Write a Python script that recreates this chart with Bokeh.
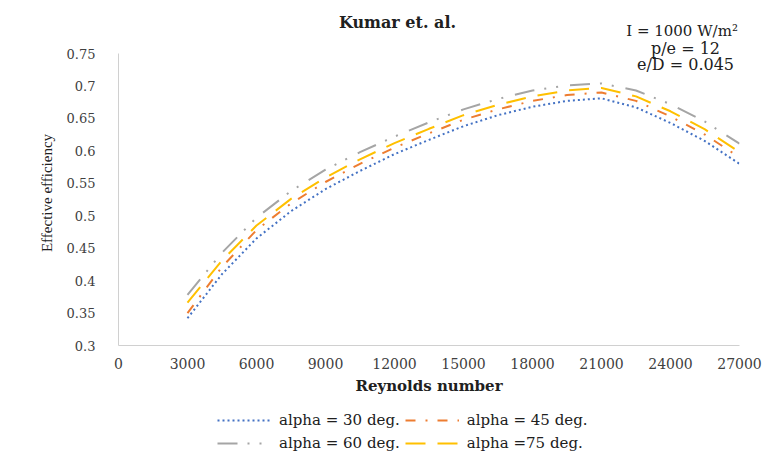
from bokeh.plotting import figure
from bokeh.layouts import column
from bokeh.models import Range1d, FixedTicker, Legend, LegendItem, Label
from bokeh.embed import file_html
from bokeh.resources import INLINE

# ---- data ----
reynolds = [3000, 4500, 6000, 7500, 9000, 10500, 12000, 13500, 15000,
            16500, 18000, 19500, 21000, 22500, 24000, 25500, 27000]
alpha30 = [0.342, 0.410, 0.465, 0.507, 0.541, 0.569, 0.595, 0.617, 0.638,
           0.655, 0.668, 0.677, 0.681, 0.667, 0.643, 0.615, 0.580]
alpha45 = [0.350, 0.421, 0.478, 0.519, 0.552, 0.580, 0.605, 0.627, 0.648,
           0.664, 0.677, 0.686, 0.690, 0.677, 0.653, 0.625, 0.590]
alpha60 = [0.378, 0.443, 0.497, 0.538, 0.571, 0.598, 0.622, 0.644, 0.664,
           0.680, 0.693, 0.701, 0.704, 0.693, 0.672, 0.645, 0.611]
alpha75 = [0.366, 0.431, 0.485, 0.526, 0.559, 0.587, 0.612, 0.634, 0.655,
           0.671, 0.684, 0.693, 0.697, 0.684, 0.661, 0.633, 0.598]

series_names = ["alpha = 30 deg.", "alpha = 45 deg.", "alpha = 60 deg.", "alpha =75 deg."]
series_colors = ["#4472C4", "#ED7D31", "#A5A5A5", "#FFC000"]
series_dashes = ["2 3", "10 10 2 10", "20 10 2 10 2 12", "20 12"]

x_ticks = [0, 3000, 6000, 9000, 12000, 15000, 18000, 21000, 24000, 27000]
x_tick_labels = ["0", "3000", "6000", "9000", "12000", "15000", "18000", "21000", "24000", "27000"]
y_ticks = [0.3, 0.35, 0.4, 0.45, 0.5, 0.55, 0.6, 0.65, 0.7, 0.75]
y_tick_labels = ["0.3", "0.35", "0.4", "0.45", "0.5", "0.55", "0.6", "0.65", "0.7", "0.75"]

title_text = "Kumar et. al."
note_lines = ["I = 1000 W/m\u00b2", "p/e = 12", "e/D = 0.045"]

SERIF = "DejaVu Serif"
FW, BL, BR = 621, 118, 30
xr = Range1d(0, 27000)

def strip(h, yr):
    f = figure(frame_width=FW, frame_height=h, min_border_left=BL, min_border_right=BR,
               min_border_top=0, min_border_bottom=0, x_range=xr, y_range=yr,
               x_axis_type=None, y_axis_type=None, output_backend="svg", toolbar_location=None)
    f.outline_line_color = None
    f.xgrid.visible = False
    f.ygrid.visible = False
    return f

# ---- header strip: title and first note line (y in pixels from top) ----
hdr = strip(40, Range1d(40, 0))
hdr.add_layout(Label(x=12130, y=22, text=title_text, text_align="center",
                     text_baseline="middle", text_font=SERIF, text_font_style="bold",
                     text_font_size="16px", text_color="#202020"))
hdr.add_layout(Label(x=26930, y=30, text=note_lines[0], text_align="right",
                     text_baseline="middle", text_font=SERIF,
                     text_font_size="15px", text_color="#202020"))

# ---- main chart ----
p = figure(frame_width=FW, frame_height=305,
           min_border_left=BL, min_border_right=BR,
           min_border_top=0, min_border_bottom=55,
           x_range=xr, y_range=Range1d(0.3, 0.7701),
           output_backend="svg", toolbar_location=None)
p.outline_line_color = None
p.xgrid.visible = False
p.ygrid.visible = False
p.background_fill_color = "white"
p.border_fill_color = "white"

for ax in (p.xaxis[0], p.yaxis[0]):
    ax.axis_line_color = "#d0d0d0"
    ax.axis_line_width = 1
    ax.major_tick_line_color = None
    ax.minor_tick_line_color = None
    ax.major_label_text_font = SERIF
    ax.major_label_text_color = "#404040"
    ax.major_label_text_font_style = "normal"
    ax.axis_label_text_color = "#202020"

p.xaxis.bounds = (0, 27000)
p.xaxis.ticker = FixedTicker(ticks=x_ticks)
p.xaxis.major_label_overrides = {t: l for t, l in zip(x_ticks, x_tick_labels)}
p.xaxis.major_label_text_font_size = "14px"
p.xaxis.major_label_standoff = 6
p.xaxis.axis_label = "Reynolds number"
p.xaxis.axis_label_text_font = SERIF
p.xaxis.axis_label_text_font_style = "bold"
p.xaxis.axis_label_text_font_size = "15px"
p.xaxis.axis_label_standoff = 5

p.yaxis.bounds = (0.3, 0.75)
p.yaxis.ticker = FixedTicker(ticks=y_ticks)
p.yaxis.major_label_overrides = {t: l for t, l in zip(y_ticks, y_tick_labels)}
p.yaxis.major_label_text_font_size = "13px"
p.yaxis.major_label_standoff = 17
p.yaxis.axis_label = "Effective efficiency"
p.yaxis.axis_label_text_font = "Liberation Serif"
p.yaxis.axis_label_text_font_style = "normal"
p.yaxis.axis_label_text_font_size = "15px"
p.yaxis.axis_label_standoff = 9

for ys, c, d in zip([alpha30, alpha45, alpha60, alpha75], series_colors, series_dashes):
    p.line(reynolds, ys, line_color=c, line_width=2, line_dash=d)

for txt, yy in zip(note_lines[1:], [0.7577, 0.733]):
    p.add_layout(Label(x=24652, y=yy, text=txt, text_align="center",
                       text_baseline="middle", text_font=SERIF,
                       text_font_size="16px", text_color="#202020"))

# ---- legend strip below the chart ----
lg = strip(55, Range1d(0, 1))
proxies = {}
for name, c, d in zip(series_names, series_colors, series_dashes):
    # legend proxy lines, drawn outside the visible range
    proxies[name] = lg.line([-5000, -4000], [5, 6], line_color=c, line_width=2, line_dash=d)
order = [0, 2, 1, 3]  # column-major fill -> rows: 30|45, 60|75
items = [LegendItem(label=series_names[i], renderers=[proxies[series_names[i]]]) for i in order]

legend = Legend(items=items, location=(99, 3), ncols=2)
legend.padding = 0
legend.margin = 0
legend.spacing = 5
legend.border_line_color = None
legend.background_fill_alpha = 0
legend.glyph_width = 54
legend.glyph_height = 12
legend.label_height = 12
legend.label_standoff = 8
legend.label_text_font = SERIF
legend.label_text_font_size = "15px"
legend.label_text_color = "#202020"
lg.add_layout(legend, "center")

layout = column(hdr, p, lg, spacing=0)
open("out.html", "w").write(file_html(layout, INLINE))
